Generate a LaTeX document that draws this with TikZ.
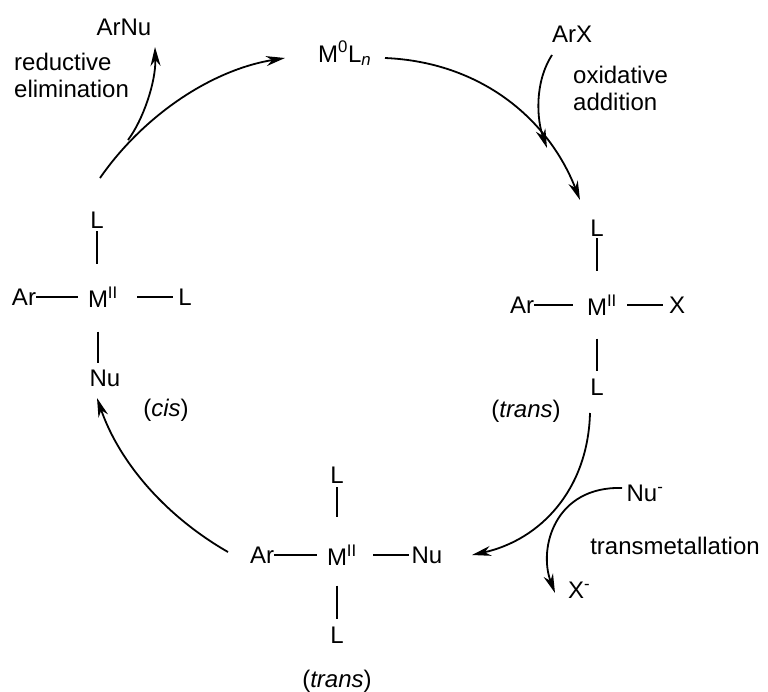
\documentclass[tikz,border=0pt]{standalone}
\usepackage{fontspec}
\setmainfont{Liberation Sans}
\usetikzlibrary{arrows.meta}

\tikzset{
  atom/.style={inner sep=0pt},
  bond/.style={line width=1.4pt},
  cyc/.style={line width=1.8pt, -{Stealth[length=19pt,width=10pt,inset=6pt]}}
}

\begin{document}
\begin{tikzpicture}[x=1pt,y=-1pt,font=\fontsize{24}{27}\selectfont]
   \useasboundingbox (0,0) rectangle (768,691);
   \node[atom,anchor=base west] (m0) at (318,62) {M\textsuperscript{0}L\textsubscript{\textit{n}}};
   \node[atom] (arnu) at (124,27) {ArNu};
   \node[atom,anchor=west,align=left] (redel) at (14,75) {reductive\\elimination};
   \node[atom] (arx) at (572,34) {ArX};
   \node[atom,anchor=west,align=left] (oxad) at (573,88) {oxidative\\addition};
   \node[atom] (num) at (642,493) {Nu\rlap{\textsuperscript{-}}};
   \node[atom] (xm) at (576,590) {X\rlap{\textsuperscript{-}}};
   \node[atom] (trmet) at (675,546) {transmetallation};

   \node[atom] (lM) at (98,297) {M\rlap{\textsuperscript{II}}};
   \node[atom] (lAr) at (24,297) {Ar};
   \node[atom] (lL) at (185,297) {L};
   \node[atom] (lLt) at (97,220) {L};
   \node[atom] (lNu) at (105,378) {Nu};
   \node[atom] (lcis) at (166,410) {(\textit{cis})};
   \draw[bond,shorten >=10pt] (lAr) -- (lM);
   \draw[bond,shorten <=29pt,shorten >=5pt] (lM) -- (lL);
   \draw[bond,shorten <=3pt,shorten >=23pt] (lLt) -- (lLt |- lM.north);
   \draw[bond,shorten <=24pt,shorten >=6pt] (lM) -- (lM |- lNu.north);

   \node[atom] (rM) at (597,305) {M\rlap{\textsuperscript{II}}};
   \node[atom] (rAr) at (522,305) {Ar};
   \node[atom] (rX) at (677,305) {X};
   \node[atom] (rLt) at (597,228) {L};
   \node[atom] (rLb) at (597,387) {L};
   \node[atom] (rtrans) at (526,411) {(\textit{trans})};
   \draw[bond,shorten >=14pt] (rAr) -- (rM);
   \draw[bond,shorten <=20pt,shorten >=6pt] (rM) -- (rX);
   \draw[bond,shorten <=2pt,shorten >=24pt] (rLt) -- (rM);
   \draw[bond,shorten <=23pt,shorten >=8pt] (rM) -- (rLb);

   \node[atom] (bM) at (337,555) {M\rlap{\textsuperscript{II}}};
   \node[atom] (bAr) at (262,555) {Ar};
   \node[atom] (bNu) at (427,555) {Nu};
   \node[atom] (bLt) at (337,475) {L};
   \node[atom] (bLb) at (337,635) {L};
   \node[atom] (btrans) at (337,681) {(\textit{trans})};
   \draw[bond,shorten >=10pt] (bAr) -- (bM);
   \draw[bond,shorten <=26pt,shorten >=2pt] (bM) -- (bNu);
   \draw[bond,shorten <=4pt,shorten >=28pt] (bLt) -- (bM);
   \draw[bond,shorten <=20pt,shorten >=8pt] (bM) -- (bLb);

   \coordinate (a1) at (100,178);
   \coordinate (a2) at (285,58);
   \coordinate (b1) at (385,58);
   \coordinate (b2) at (580,200);
   \coordinate (c1) at (590,413);
   \coordinate (c2) at (472,555);
   \coordinate (d1) at (228,552);
   \coordinate (d2) at (97,398);
   \draw[cyc] (a1) .. controls +(43,-62) and +(-74,12) .. (a2);
   \draw[cyc] (b1) .. controls +(95,4) and +(-32,-82) .. (b2);
   \draw[cyc] (c1) .. controls +(-2,77) and +(68,-15) .. (c2);
   \draw[cyc] (d1) .. controls +(-61,-35) and +(23,66) .. (d2);

   \coordinate (re1) at (128,140);
   \coordinate (re2) at (155,47);
   \coordinate (ox1) at (552,55);
   \coordinate (ox2) at (547,148);
   \coordinate (tm1) at (622,488);
   \coordinate (tm2) at (555,593);
   \draw[cyc] (re1) .. controls +(15,-20) and +(1,35) .. (re2);
   \draw[cyc] (ox1) .. controls +(-18,28) and +(-10,-28) .. (ox2);
   \draw[cyc] (tm1) .. controls +(-67,-2) and +(-17,-45) .. (tm2);
\end{tikzpicture}
\end{document}
